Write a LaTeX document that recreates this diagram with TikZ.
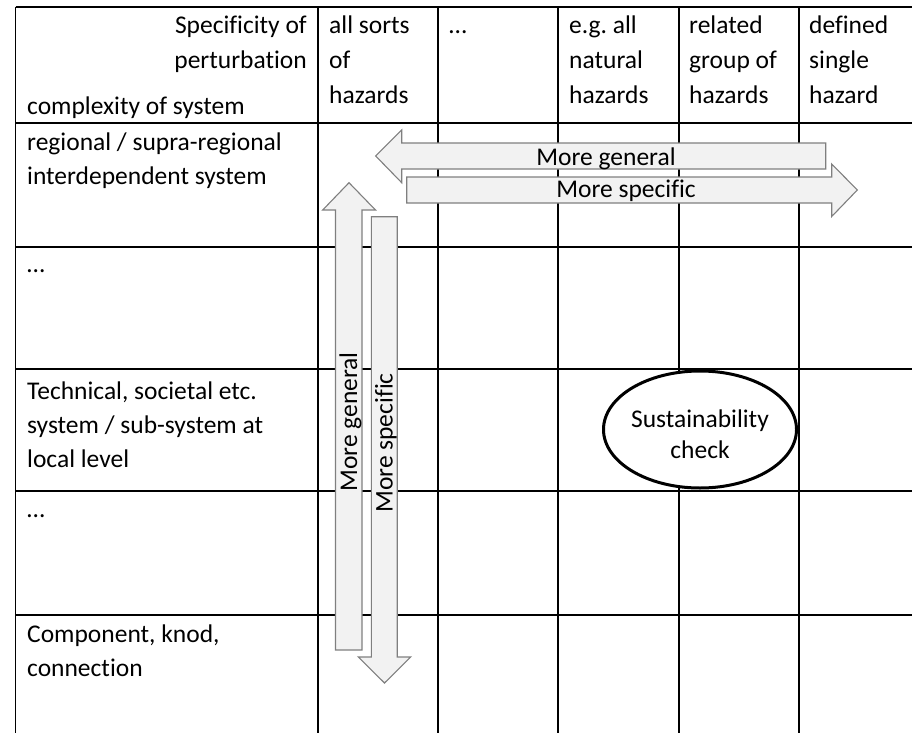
\documentclass[tikz,border=0pt]{standalone}
\usepackage{fontspec}
\setmainfont{Carlito}[Ligatures=NoCommon]
\usetikzlibrary{shapes.geometric}
\definecolor{arrfill}{HTML}{F2F2F2}
\definecolor{arrline}{HTML}{7F7F7F}
\frenchspacing
\begin{document}
\begin{tikzpicture}[x=1pt,y=-1pt,
  gridline/.style={line width=1.4pt, black},
  blockarrow/.style={fill=arrfill, draw=arrline, line width=1.1pt, line join=miter},
  lbl/.style={inner sep=0pt, font=\fontsize{25.5}{30}\selectfont, anchor=base west},
  lblr/.style={lbl, anchor=base east},
  lblc/.style={lbl, anchor=base},
  vlbl/.style={lbl, anchor=base, rotate=90}]
\useasboundingbox (0,0) rectangle (912,733);
% grid
\foreach \x in {15.5,318,438,558,679,799}
  \draw[gridline] (\x,7) -- (\x,733);
\foreach \y in {7,123,247,369,491,615}
  \draw[gridline] (15.5,\y) -- (912,\y);
% header texts
\node[lblr] (h1) at (307,34) {Specificity of};
\node[lblr] (h2) at (307,69) {perturbation};
\node[lbl] (h3) at (27,114) {complexity of system};
\node[lbl] (c1a) at (329,34) {all sorts};
\node[lbl] (c1b) at (329,69) {of};
\node[lbl] (c1c) at (329,104) {hazards};
\node[lbl] (c2a) at (449,34) {…};
\node[lbl] (c3a) at (569,34) {e.g. all};
\node[lbl] (c3b) at (569,69) {natural};
\node[lbl] (c3c) at (569,104) {hazards};
\node[lbl] (c4a) at (689,34) {related};
\node[lbl] (c4b) at (689,69) {group of};
\node[lbl] (c4c) at (689,104) {hazards};
\node[lbl] (c5a) at (809,34) {defined};
\node[lbl] (c5b) at (809,69) {single};
\node[lbl] (c5c) at (809,104) {hazard};
% row texts
\node[lbl] (r1a) at (27,150) {regional / supra-regional};
\node[lbl] (r1b) at (27,184) {interdependent system};
\node[lbl] (r2a) at (27,272) {…};
\node[lbl] (r3a) at (27,399) {Technical, societal etc.};
\node[lbl] (r3b) at (27,433) {system / sub-system at};
\node[lbl] (r3c) at (27,467) {local level};
\node[lbl] (r4a) at (27,517) {…};
\node[lbl] (r5a) at (27,642) {Component, knod,};
\node[lbl] (r5b) at (27,676) {connection};
% horizontal block arrows
\draw[blockarrow] (375.7,156) -- (401.7,130) -- (401.7,143) -- (825.7,143) -- (825.7,169) -- (401.7,169) -- (401.7,182.7) -- cycle;
\draw[blockarrow] (857.3,190) -- (831.7,164) -- (831.7,177) -- (406.7,177) -- (406.7,203) -- (831.7,203) -- (831.7,216.5) -- cycle;
% vertical block arrows
\draw[blockarrow] (349,182.7) -- (375.5,210) -- (362,210) -- (362,650) -- (335.5,650) -- (335.5,210) -- (322.7,210) -- cycle;
\draw[blockarrow] (384.5,683) -- (358.3,657) -- (371.3,657) -- (371.3,216.7) -- (397.2,216.7) -- (397.2,657) -- (410.7,657) -- cycle;
\node[lblc] (mg) at (606,165) {More general};
\node[lblc] (ms) at (626,197) {More specific};
\node[vlbl] (vg) at (357,422) {More general};
\node[vlbl] (vs) at (392.5,443) {More specific};
% ellipse
\node[ellipse, draw, line width=3pt, fill=white, inner sep=0pt,
      minimum width=193pt, minimum height=117pt] (sc) at (700,429.5) {};
\node[lblc] (sc1) at (700,427) {Sustainability};
\node[lblc] (sc2) at (700,458) {check};
\end{tikzpicture}
\end{document}
